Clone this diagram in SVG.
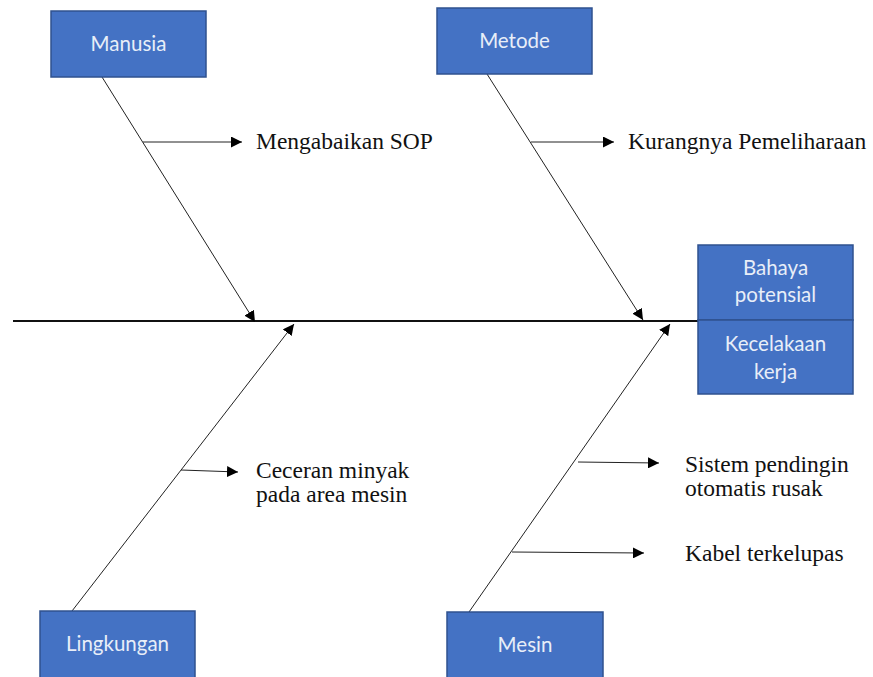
<svg xmlns="http://www.w3.org/2000/svg" width="873" height="677" viewBox="0 0 873 677">
<style>
.box{fill:#4472C4;stroke:#2F528F;stroke-width:1.5}
.bt{font-family:Lato,"Open Sans",sans-serif;font-size:20.5px;fill:#E8EEF8;text-anchor:middle}
.lbl{font-family:"Liberation Serif","Times New Roman",serif;font-size:23.5px;fill:#111}
.ln{stroke:#222;stroke-width:1;fill:none}
.sp{stroke:#111;stroke-width:1.8;fill:none}
</style>
<defs>
<marker id="ah" viewBox="0 0 10 10" refX="10" refY="5" markerWidth="11" markerHeight="11" markerUnits="userSpaceOnUse" orient="auto">
<path d="M0,0 L10,5 L0,10 z" fill="#000"/>
</marker>
</defs>
<rect width="873" height="677" fill="#fff"/>
<g id="connectors">
<line class="sp" x1="13" y1="321" x2="698" y2="321"/>
<line class="ln" x1="102" y1="77" x2="255" y2="322" marker-end="url(#ah)"/>
<line class="ln" x1="487" y1="74" x2="643" y2="320" marker-end="url(#ah)"/>
<line class="ln" x1="72" y1="611" x2="294" y2="324" marker-end="url(#ah)"/>
<line class="ln" x1="469" y1="612" x2="670" y2="324" marker-end="url(#ah)"/>
<line class="ln" x1="143" y1="142" x2="242" y2="142" marker-end="url(#ah)"/>
<line class="ln" x1="531" y1="142" x2="614" y2="142" marker-end="url(#ah)"/>
<line class="ln" x1="181" y1="470" x2="238" y2="472" marker-end="url(#ah)"/>
<line class="ln" x1="578" y1="462" x2="659" y2="463" marker-end="url(#ah)"/>
<line class="ln" x1="512" y1="552" x2="644" y2="553" marker-end="url(#ah)"/>
</g>
<g id="manusia">
<rect class="box" x="51" y="11" width="155" height="66"/>
<text class="bt" x="128.5" y="51">Manusia</text>
</g>
<g id="metode">
<rect class="box" x="437" y="8" width="155" height="66"/>
<text class="bt" x="514.5" y="48">Metode</text>
</g>
<g id="head">
<rect class="box" x="698" y="245" width="155" height="75"/>
<rect class="box" x="698" y="320" width="155" height="74"/>
<text class="bt" x="775.5" y="275">Bahaya</text>
<text class="bt" x="775.5" y="302">potensial</text>
<text class="bt" x="775.5" y="351">Kecelakaan</text>
<text class="bt" x="775.5" y="379">kerja</text>
</g>
<g id="lingkungan">
<rect class="box" x="40" y="611" width="155" height="70"/>
<text class="bt" x="117.5" y="651">Lingkungan</text>
</g>
<g id="mesin">
<rect class="box" x="447" y="612" width="156" height="70"/>
<text class="bt" x="525" y="652">Mesin</text>
</g>
<g id="labels">
<text class="lbl" x="256" y="149">Mengabaikan SOP</text>
<text class="lbl" x="628" y="149">Kurangnya Pemeliharaan</text>
<text class="lbl" x="256" y="478">Ceceran minyak</text>
<text class="lbl" x="256" y="502">pada area mesin</text>
<text class="lbl" x="685" y="472">Sistem pendingin</text>
<text class="lbl" x="685" y="496">otomatis rusak</text>
<text class="lbl" x="685" y="561">Kabel terkelupas</text>
</g>
</svg>
